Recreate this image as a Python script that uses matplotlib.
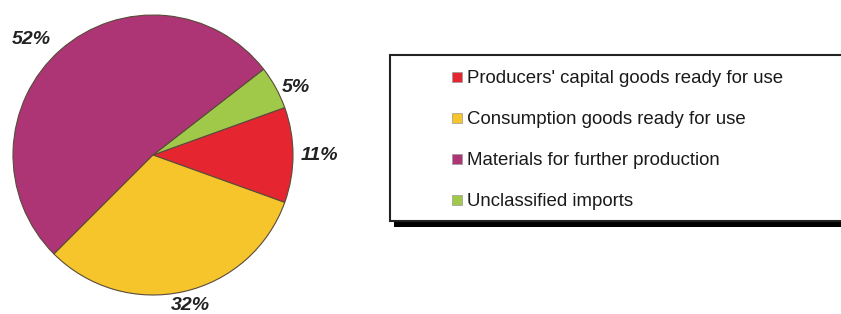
import numpy as np
import matplotlib; matplotlib.use("Agg")
import matplotlib.pyplot as plt
import matplotlib.patches as mpatches
from matplotlib.lines import Line2D

plt.rcParams["font.family"] = ["Liberation Sans", "DejaVu Sans"]

# legend order
categories = ["Producers' capital goods ready for use",
              "Consumption goods ready for use",
              "Materials for further production",
              "Unclassified imports"]
shares = [11, 32, 52, 5]
colors = ["#E52630", "#F5C52B", "#AD3576", "#A0C94A"]

# counter-clockwise drawing order on the pie
pie_order = [0, 3, 2, 1]
label_dist = [1.19, 1.13, 1.20, 1.11]
label_turn = [0, -3.5, 5, 1.5]  # degrees, nudges labels off the wedge middle

W, H = 841, 314
fig = plt.figure(figsize=(W / 100, H / 100), dpi=100, facecolor="white")

cx, cy, r = 153, 155, 140
ax = fig.add_axes([(cx - r) / W, (H - cy - r) / H, 2 * r / W, 2 * r / H])

vals = [shares[i] for i in pie_order]
cols = [colors[i] for i in pie_order]
wedges, _, pcts = ax.pie(vals, colors=cols, startangle=-shares[0] / 100 * 180,
                         counterclock=True, radius=1.0,
                         autopct=lambda p: f"{p:.0f}%", pctdistance=1.17,
                         wedgeprops=dict(edgecolor="#5a4a3a", linewidth=0.8),
                         frame=False)
ax.set_xlim(-1, 1); ax.set_ylim(-1, 1); ax.set_aspect("equal"); ax.axis("off")
for w, t, d, s in zip(wedges, pcts, label_dist, label_turn):
    a = np.deg2rad((w.theta1 + w.theta2) / 2 + s)
    t.set_position((d * np.cos(a), d * np.sin(a)))
    t.set_fontsize(14); t.set_fontweight("bold"); t.set_fontstyle("italic")
    t.set_color("#222222"); t.set_clip_on(False)

# legend box with drop shadow
bx0, by0, by1 = 390, 55, 221
fig.patches.append(mpatches.Rectangle(((bx0 + 4) / W, (H - by1 - 6) / H), (W - bx0) / W,
                                      (by1 - by0) / H, transform=fig.transFigure,
                                      facecolor="black", edgecolor="none", zorder=1))
fig.patches.append(mpatches.Rectangle((bx0 / W, (H - by1) / H), (W - bx0 + 10) / W,
                                      (by1 - by0) / H, transform=fig.transFigure,
                                      facecolor="white", edgecolor="#222222",
                                      linewidth=1.5, zorder=2))

handles = [Line2D([], [], marker="s", linestyle="", markersize=6.8,
                  markerfacecolor=c, markeredgecolor="#999999", markeredgewidth=0.5)
           for c in colors]
leg = fig.legend(handles, categories, loc="upper left",
                 bbox_to_anchor=(442 / W, (H - 61) / H), frameon=False,
                 fontsize=13.4, labelspacing=1.29, handlelength=0.65,
                 handletextpad=0.2, borderpad=0, labelcolor="#1a1a1a")
leg.set_zorder(3)

fig.savefig("out.png", dpi=100, facecolor="white")
